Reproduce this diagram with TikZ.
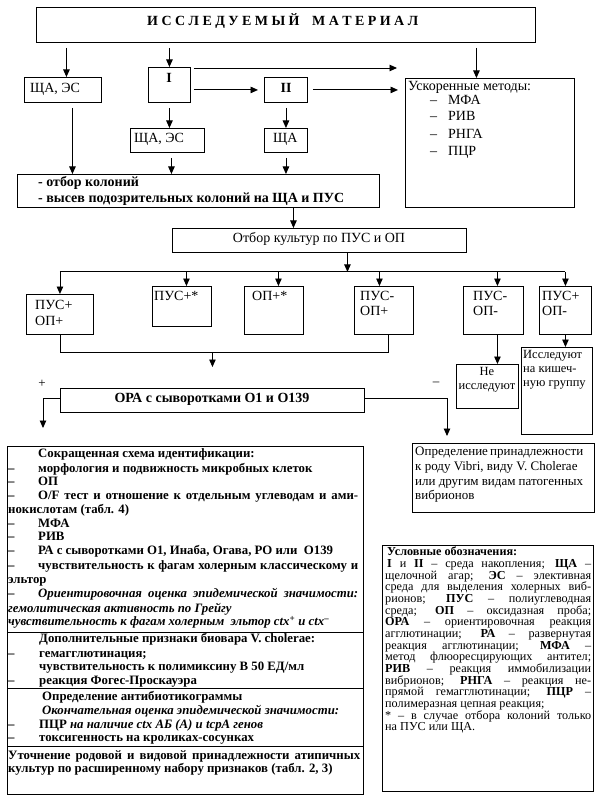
\documentclass[tikz,border=0pt]{standalone}
\usepackage{fontspec}
\setmainfont{Liberation Serif}
\usetikzlibrary{arrows.meta,calc}
\newcommand\fsz[1]{\fontsize{#1}{#1}\selectfont}
\newcommand\jl[2]{\makebox[#1pt][s]{#2}}
\newcommand\mkbox[5]{\node[bxs, minimum width={(#4-#2)*1pt}, minimum height={(#5-#3)*1pt}] (#1) at (#2,#3) {};}
\begin{document}
\begin{tikzpicture}[x=1pt,y=-1pt,
  bxs/.style={draw, line width=0.9pt, inner sep=0pt, anchor=north west},
  ar/.style={line width=0.9pt, -{Triangle[length=7.5pt,width=6.5pt]}},
  ln/.style={line width=0.9pt},
  tx/.style={inner sep=0pt, text height=0.68em, text depth=0.18em, anchor=west},
  rg/.style={tx, font=\fsz{14}},
  sm/.style={tx, font=\fsz{12.5}},
  sn/.style={tx, font=\fsz{13}},
  bd/.style={tx, font=\fsz{12.8}\bfseries},
  bb/.style={tx, font=\fsz{14}\bfseries},
  lg/.style={tx, font=\fsz{12.2}}
]
\useasboundingbox[fill=white] (0,0) rectangle (599,799);

% boxes
\mkbox{top}{36}{7}{535}{42}
\mkbox{sa1}{24}{77}{101}{102}
\mkbox{one}{148}{67}{190}{102}
\mkbox{two}{264}{77}{307}{102}
\mkbox{usk}{405}{78}{574}{207}
\mkbox{sa2}{130}{128}{204}{152}
\mkbox{sca}{264}{128}{307}{152}
\mkbox{kol}{17}{174}{379}{207}
\mkbox{otb}{172}{228}{466}{252}
\mkbox{b1}{26}{294}{93}{334}
\mkbox{b2}{152}{286}{211}{326}
\mkbox{b3}{244}{286}{303}{334}
\mkbox{b4}{354}{286}{413}{334}
\mkbox{b5}{463}{286}{523}{334}
\mkbox{b6}{539}{286}{591}{334}
\mkbox{ne}{456}{364}{518}{408}
\mkbox{kis}{521}{347}{592}{434}
\mkbox{ora}{60}{388}{364}{412}
\mkbox{opr}{412}{443}{594}{512}
\mkbox{big}{7}{446}{363}{794}
\mkbox{leg}{382}{545}{593}{791}

% dividers in big box
\draw[ln] ([yshift=-186pt]big.north west) -- ([yshift=-186pt]big.north east);
\draw[ln] ([yshift=-242pt]big.north west) -- ([yshift=-242pt]big.north east);
\draw[ln] ([yshift=-300pt]big.north west) -- ([yshift=-300pt]big.north east);

% texts top part
\node[tx, font=\fsz{14}\bfseries] (ttl) at (147,23) {\jl{271}{И С С Л Е Д У Е М Ы Й\hspace{9pt} М А Т Е Р И А Л}};
\node[rg] (t1) at (30,90) {ЩА, ЭС};
\node[tx, font=\fsz{14}\bfseries, anchor=center] (t2) at (169,80) {I};
\node[tx, font=\fsz{14}\bfseries, anchor=center] (t3) at (286,90) {II};
\node[rg] (t4) at (134,140) {ЩА, ЭС};
\node[rg] (t5) at (273,140) {ЩА};
\node[rg] (u0) at (408,88) {Ускоренные методы:};
\node[rg] (u1d) at (430,102) {–}; \node[rg] (u1) at (448,102) {МФА};
\node[rg] (u2d) at (430,118) {–}; \node[rg] (u2) at (448,118) {РИВ};
\node[rg] (u3d) at (430,136) {–}; \node[rg] (u3) at (448,136) {РНГА};
\node[rg] (u4d) at (430,153) {–}; \node[rg] (u4) at (448,153) {ПЦР};
\node[bb] (k1) at (38,184) {- отбор колоний};
\node[bb] (k2) at (38,200) {- высев подозрительных колоний на ЩА и ПУС};
\node[rg, anchor=center] (ot) at (319,240) {Отбор культур по ПУС и ОП};
\node[rg] (b1a) at (35,307) {ПУС+};
\node[rg] (b1b) at (35,323) {ОП+};
\node[rg] (b2a) at (154,298) {ПУС+*};
\node[rg] (b3a) at (252,298) {ОП+*};
\node[rg] (b4a) at (360,298) {ПУС-};
\node[rg] (b4b) at (360,313) {ОП+};
\node[rg] (b5a) at (473,298) {ПУС-};
\node[rg] (b5b) at (473,313) {ОП-};
\node[rg] (b6a) at (542,298) {ПУС+};
\node[rg] (b6b) at (542,313) {ОП-};
\node[sm, anchor=center] (nea) at (487,373) {Не};
\node[sm, anchor=center] (neb) at (487,387) {исследуют};
\node[sm] (ka) at (523,356) {Исследуют};
\node[sm] (kb) at (523,370) {на кишеч-};
\node[sm] (kc) at (523,384) {ную группу};
\node[tx, font=\fsz{13}, anchor=center] (plus) at (42,385) {+};
\node[tx, font=\fsz{13}, anchor=center] (minus) at (436,383) {–};
\node[bb, anchor=center] (orat) at (212,400) {ОРА с сыворотками О1 и О139};
\node[sn] (o1) at (415,453) {\jl{168}{Определение принадлежности}};
\node[sn] (o2) at (415,468) {к роду Vibri, виду V. Cholerae};
\node[sn] (o3) at (415,483) {\jl{168}{или другим видам патогенных}};
\node[sn] (o4) at (415,497) {вибрионов};

% big box texts
\node[bd] (g1) at (38,455) {Сокращенная схема идентификации:};
\node[bd] (g2d) at (8,470) {–}; \node[bd] (g2) at (38,470) {морфология и подвижность микробных клеток};
\node[bd] (g3d) at (8,483) {–}; \node[bd] (g3) at (38,483) {ОП};
\node[bd] (g4d) at (8,497) {–}; \node[bd] (g4) at (38,497) {\jl{320}{O/F тест и отношение к отдельным углеводам и ами-}};
\node[bd] (g5) at (8,511) {нокислотам (табл. 4)};
\node[bd] (g6d) at (8,525) {–}; \node[bd] (g6) at (38,525) {МФА};
\node[bd] (g7d) at (8,538) {–}; \node[bd] (g7) at (38,538) {РИВ};
\node[bd] (g8d) at (8,552) {–}; \node[bd] (g8) at (38,552) {РА с сыворотками О1, Инаба, Огава, РО или\ \ О139};
\node[bd] (g9d) at (8,567) {–}; \node[bd] (g9) at (38,567) {\jl{320}{чувствительность к фагам холерным классическому и}};
\node[bd] (g10) at (8,581) {эльтор};
\node[bd] (g11d) at (8,595) {–}; \node[bd] (g11) at (38,595) {\itshape\jl{320}{Ориентировочная оценка эпидемической значимости:}};
\node[bd] (g12) at (8,610) {\itshape гемолитическая активность по Грейгу};
\node[bd] (g13) at (8,623) {\itshape чувствительность к фагам холерным\ \ эльтор ctx\textsuperscript{+} и ctx\textsuperscript{–}};
\node[bd] (g14) at (39,640) {Дополнительные признаки биовара V. cholerae:};
\node[bd] (g15d) at (8,655) {–}; \node[bd] (g15) at (39,655) {гемагглютинация;};
\node[bd] (g16) at (39,668) {чувствительность к полимиксину В 50 ЕД/мл};
\node[bd] (g17d) at (8,682) {–}; \node[bd] (g17) at (39,682) {реакция Фогес-Проскауэра};
\node[bd] (g18) at (42,698) {Определение антибиотикограммы};
\node[bd] (g19) at (42,712) {\itshape Окончательная оценка эпидемической значимости:};
\node[bd] (g20d) at (8,726) {–}; \node[bd] (g20) at (39,726) {ПЦР \textit{на наличие ctx АБ (А) и tcpA генов}};
\node[bd] (g21d) at (8,739) {–}; \node[bd] (g21) at (39,739) {токсигенность на кроликах-сосунках};
\node[bd] (g22) at (8,757) {\jl{352}{Уточнение родовой и видовой принадлежности атипичных}};
\node[bd] (g23) at (8,770) {культур по расширенному набору признаков (табл. 2, 3)};

% legend
\node[lg] (l1) at (387,553) {\textbf{Условные обозначения:}};
\node[lg] (l2) at (387,565) {\jl{204}{\textbf{I} и \textbf{II} – среда накопления; \textbf{ЩА} –}};
\node[lg] (l3) at (385,577) {\jl{206}{щелочной агар; \textbf{ЭС} – элективная}};
\node[lg] (l4) at (385,588) {\jl{206}{среда для выделения холерных виб-}};
\node[lg] (l5) at (385,600) {\jl{206}{рионов; \textbf{ПУС} – полиуглеводная}};
\node[lg] (l6) at (385,612) {\jl{206}{среда; \textbf{ОП} – оксидазная проба;}};
\node[lg] (l7) at (385,623) {\jl{206}{\textbf{ОРА} – ориентировочная реакция}};
\node[lg] (l8) at (385,635) {\jl{206}{агглютинации; \textbf{РА} – развернутая}};
\node[lg] (l9) at (385,647) {\jl{206}{реакция агглютинации; \textbf{МФА} –}};
\node[lg] (l10) at (385,658) {\jl{206}{метод флюоресцирующих антител;}};
\node[lg] (l11) at (385,670) {\jl{206}{\textbf{РИВ} – реакция иммобилизации}};
\node[lg] (l12) at (385,682) {\jl{206}{вибрионов; \textbf{РНГА} – реакция не-}};
\node[lg] (l13) at (385,693) {\jl{206}{прямой гемагглютинации; \textbf{ПЦР} –}};
\node[lg] (l14) at (385,705) {полимеразная цепная реакция;};
\node[lg] (l15) at (385,717) {\jl{206}{* – в случае отбора колоний только}};
\node[lg] (l16) at (385,728) {на ПУС или ЩА.};

% connectors
\coordinate (ctop1) at ([xshift=3.5pt]sa1.north);
\draw[ar, shorten <=5pt] (ctop1 |- top.south) -- (ctop1);
\draw[ar, shorten <=5pt] (one.north |- top.south) -- (one.north);
\coordinate (ctop3) at ([xshift=-13.5pt]usk.north);
\draw[ar, shorten <=5pt] (ctop3 |- top.south) -- (ctop3);
\coordinate (c12a) at ([xshift=3pt,yshift=-1pt]one.north east);
\coordinate (c12b) at ([xshift=-8pt,yshift=10pt]usk.north west);
\draw[ar] (c12a) -- (c12b);
\draw[ar, shorten <=3pt, shorten >=6pt] (one.east |- two.west) -- (two.west);
\draw[ar, shorten <=5pt, shorten >=7pt] (two.east) -- (two.east -| usk.west);
\draw[ar, shorten <=5pt] (one.south) -- (one.south |- sa2.north);
\draw[ar, shorten <=5pt] (two.south) -- (sca.north);
\coordinate (ck1) at ([xshift=9.5pt]sa1.south);
\draw[ar, shorten <=5pt] (ck1) -- (ck1 |- kol.north);
\coordinate (ck2) at ([xshift=4pt]sa2.south);
\draw[ar, shorten <=5pt] (ck2) -- (ck2 |- kol.north);
\draw[ar, shorten <=5pt] (sca.south) -- (sca.south |- kol.north);
\coordinate (ck3) at ([xshift=-26pt]otb.north);
\draw[ar] (ck3 |- kol.south) -- (ck3);
\coordinate (brY) at ([yshift=-19pt]otb.south);
\coordinate (cb) at ([xshift=28pt]otb.south);
\draw[ar] (cb) -- (cb |- brY);
\draw[ln] (b1.north |- brY) -- (b6.north |- brY);
\draw[ar] (b1.north |- brY) -- (b1.north);
\coordinate (a2) at ([xshift=4.5pt]b2.north);
\draw[ar] (a2 |- brY) -- (a2);
\coordinate (a3) at ([xshift=4.5pt]b3.north);
\draw[ar] (a3 |- brY) -- (a3);
\coordinate (a4) at ([xshift=-4.5pt]b4.north);
\draw[ar] (a4 |- brY) -- (a4);
\coordinate (a5) at ([xshift=4pt]b5.north);
\draw[ar] (a5 |- brY) -- (a5);
\draw[ar] (b6.north |- brY) -- (b6.north);
\coordinate (cY) at ([yshift=-18pt]b1.south);
\coordinate (c4) at ([xshift=4.5pt]b4.south);
\draw[ln] (b1.south) -- (b1.south |- cY) -- (c4 |- cY) -- (c4);
\draw[ar] (ora.north |- cY) -- ([yshift=21pt]ora.north);
\coordinate (c5) at ([xshift=4pt]b5.south);
\draw[ar] (c5) -- (c5 |- ne.north);
\draw[ar] (b6.south) -- (b6.south |- kis.north);
\coordinate (tipL) at ([xshift=36pt,yshift=18pt]big.north west);
\draw[ar] ([yshift=2pt]ora.west) -| (tipL);
\coordinate (tipR) at ([xshift=35pt,yshift=7pt]opr.north west);
\draw[ar] ([yshift=2pt]ora.east) -| (tipR);
\end{tikzpicture}
\end{document}
